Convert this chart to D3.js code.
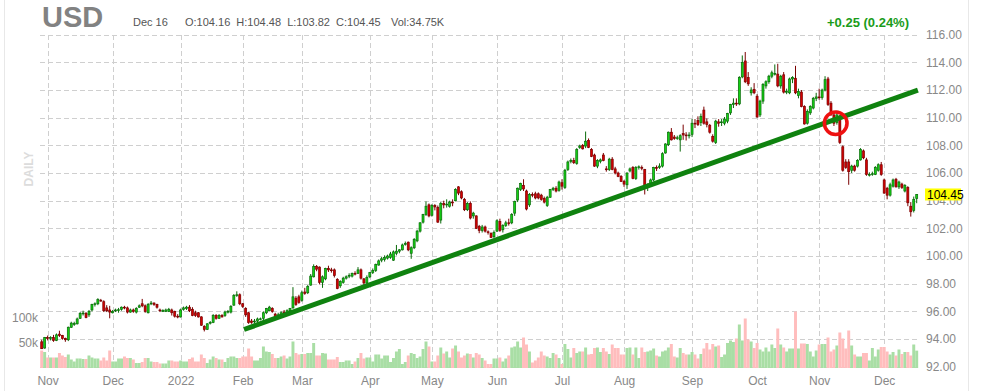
<!DOCTYPE html>
<html><head><meta charset="utf-8">
<script src="https://cdn.jsdelivr.net/npm/d3@7"></script>
<style>body{margin:0;background:#fff;} svg{display:block;font-family:Arial,"Liberation Sans",sans-serif;}</style>
</head><body><svg id="c" width="981" height="391"></svg>
<script>
// [open, high, low, close, volume(k)] per trading day
const oct21 = [[93.80,93.95,93.28,93.30,35],[93.35,94.15,93.30,94.10,32]];
const nov21 = [[94.10,94.25,93.90,94.05,21],[94.05,94.20,93.90,94.10,21],[94.10,94.30,93.80,93.90,21],[93.90,94.40,93.85,94.30,21],[94.35,94.60,94.15,94.25,30],[94.25,94.30,93.95,94.05,25],[94.05,94.10,93.80,93.95,22],[93.95,94.90,93.85,94.85,27],[94.85,95.25,94.80,95.15,17],[95.05,95.25,94.95,95.12,13],[95.10,95.55,95.05,95.45,19],[95.50,95.95,95.45,95.85,19],[95.85,96.05,95.70,95.88,18],[95.85,95.95,95.50,95.55,18],[95.75,96.10,95.60,96.00,25],[96.10,96.55,96.00,96.50,21],[96.50,96.65,96.35,96.55,19],[96.55,96.95,96.45,96.85,19],[96.80,96.90,96.70,96.78,15],[96.70,96.80,95.95,96.05,21],[96.25,96.45,95.95,96.05,15],[96.10,96.40,95.50,95.95,35]];
const dec21 = [[95.90,96.10,95.85,96.00,13],[96.05,96.20,95.95,96.10,13],[96.10,96.25,95.90,96.12,19],[96.15,96.35,96.05,96.30,19],[96.30,96.40,96.15,96.25,23],[96.25,96.35,95.85,95.95,20],[95.95,96.20,95.90,96.10,20],[96.10,96.20,95.90,96.00,17],[95.95,96.30,95.85,96.20,10],[96.30,96.50,96.25,96.40,10],[96.55,96.90,96.30,96.40,12],[96.40,96.50,95.90,96.00,20],[95.90,96.60,95.85,96.50,20],[96.55,96.75,96.45,96.60,13],[96.60,96.65,96.40,96.50,12],[96.50,96.55,96.20,96.30,12],[96.10,96.20,95.95,96.05,9],[96.05,96.15,95.95,96.06,9],[96.00,96.20,95.95,96.10,9],[96.00,96.25,95.95,96.15,15],[96.10,96.20,95.70,95.90,15],[96.00,96.05,95.55,95.65,13],[95.65,95.80,95.50,95.60,13]];
const jan22 = [[95.60,96.20,95.55,96.10,15],[96.15,96.35,96.05,96.25,13],[96.20,96.40,96.10,96.30,13],[96.30,96.45,95.95,96.05,18],[96.15,96.30,95.65,95.70,21],[95.90,96.05,95.60,95.70,13],[95.90,95.95,95.55,95.60,13],[95.60,95.65,94.95,95.00,27],[94.90,95.00,94.55,94.70,20],[94.70,95.15,94.65,95.10,10],[95.15,95.30,95.05,95.20,17],[95.20,95.80,95.15,95.70,23],[95.70,95.80,95.40,95.50,20],[95.50,95.80,95.45,95.70,17],[95.70,95.80,95.55,95.60,17],[95.70,96.05,95.60,95.95,12],[95.95,96.10,95.85,96.00,20],[95.95,96.45,95.85,96.35,23],[96.45,97.25,96.40,97.15,23],[97.15,97.45,97.05,97.20,20],[97.20,97.30,96.45,96.55,20]];
const feb22 = [[96.55,96.60,96.25,96.35,23],[96.20,96.30,95.60,95.75,23],[95.90,95.95,95.10,95.20,39],[95.30,95.45,95.10,95.20,23],[95.25,95.45,95.15,95.30,15],[95.30,95.55,95.20,95.45,15],[95.45,95.55,95.35,95.46,20],[95.50,96.00,95.25,95.90,43],[95.90,96.25,95.80,96.20,33],[96.05,96.40,96.00,96.30,32],[96.20,96.30,95.90,96.00,28],[95.80,95.90,95.55,95.60,20],[95.60,95.90,95.55,95.75,20],[95.75,96.00,95.65,95.90,23],[95.95,96.10,95.80,95.85,25],[95.85,96.15,95.80,96.05,19],[96.05,96.25,95.95,96.20,23],[96.25,97.75,96.20,97.05,53],[96.95,97.10,96.40,96.50,30],[97.05,97.20,96.55,96.65,27]];
const mar22 = [[96.80,97.50,96.70,97.35,28],[97.40,97.70,97.20,97.30,28],[97.35,97.90,97.25,97.80,30],[97.90,98.70,97.85,98.55,30],[98.50,99.40,98.45,99.25,50],[99.25,99.35,98.90,99.05,25],[99.20,99.25,97.95,98.10,25],[98.10,98.60,97.70,98.50,30],[98.35,99.15,98.25,99.10,29],[99.10,99.30,98.85,99.00,17],[99.00,99.15,98.80,98.98,17],[99.00,99.10,98.45,98.60,17],[98.30,98.40,97.60,97.65,22],[97.85,98.25,97.70,98.15,12],[98.10,98.50,98.00,98.40,12],[98.40,98.60,98.30,98.50,15],[98.55,98.75,98.40,98.60,15],[98.55,98.80,98.45,98.75,8],[98.75,98.90,98.60,98.70,13],[98.75,99.20,98.70,99.00,20],[99.00,99.10,98.30,98.40,30],[98.35,98.40,97.70,98.05,19],[98.05,98.60,97.85,98.45,21]];
const apr22 = [[98.50,98.85,98.40,98.80,21],[98.80,99.10,98.70,98.95,13],[98.95,99.45,98.85,99.40,27],[99.35,99.75,99.30,99.65,27],[99.70,99.95,99.55,99.80,19],[99.75,100.05,99.60,99.90,25],[99.85,100.10,99.75,100.00,25],[99.90,100.30,99.80,100.15,12],[99.70,100.40,99.65,100.30,20],[100.20,100.80,100.05,100.35,33],[100.35,100.50,100.20,100.45,38],[100.45,100.90,100.40,100.80,8],[100.85,101.05,100.75,100.90,12],[101.00,101.05,100.35,100.45,25],[100.20,100.70,99.80,100.60,30],[100.60,101.30,100.50,101.20,28],[101.10,101.90,101.00,101.80,20],[101.80,102.45,101.70,102.40,23],[102.45,103.05,102.35,103.00,38],[103.00,103.95,102.90,103.60,53],[103.70,103.80,102.80,102.90,43]];
const may22 = [[102.95,103.75,102.85,103.65,13],[103.65,103.75,103.30,103.55,13],[103.50,103.65,102.40,102.45,25],[102.60,103.90,102.35,103.80,41],[103.80,104.00,103.45,103.70,29],[103.70,104.10,103.50,103.75,33],[103.60,104.00,103.50,103.90,21],[103.90,104.10,103.60,103.85,39],[104.00,104.90,103.95,104.80,45],[105.00,105.05,104.40,104.55,33],[104.65,104.75,104.10,104.20,21],[104.10,104.20,103.25,103.35,25],[103.35,103.90,103.25,103.80,29],[103.80,103.95,102.65,102.75,28],[102.90,103.20,102.70,103.10,21],[102.90,102.95,101.95,102.00,30],[102.15,102.25,101.65,101.85,27],[101.85,102.25,101.70,102.10,20],[102.10,102.20,101.70,101.80,15],[101.75,101.85,101.55,101.70,8],[101.65,101.70,101.30,101.35,8],[101.40,101.85,101.30,101.70,19]];
const jun22 = [[101.80,102.65,101.75,102.55,19],[102.50,102.70,101.75,101.85,21],[101.90,102.30,101.70,102.20,13],[102.20,102.55,102.10,102.40,19],[102.40,102.70,102.20,102.35,25],[102.40,103.10,102.30,103.00,41],[103.10,104.00,102.90,103.95,43],[104.05,104.95,103.90,104.90,53],[104.80,105.30,104.70,105.25,41],[105.10,105.55,104.70,104.85,61],[104.70,104.80,103.30,103.40,47],[103.70,104.55,103.55,104.45,33],[104.45,104.60,104.25,104.40,11],[104.50,104.65,104.10,104.20,15],[104.50,104.60,104.10,104.20,21],[104.40,104.50,104.00,104.10,33],[104.15,104.30,103.80,103.90,25],[103.65,104.35,103.55,104.25,23],[104.25,104.85,104.20,104.80,20],[104.80,105.00,104.70,104.90,30],[104.90,105.05,104.60,104.70,27],[104.75,105.45,104.65,105.35,20]];
const jul22 = [[105.30,105.55,104.80,105.05,8],[104.95,106.30,104.85,106.20,48],[106.25,106.90,106.15,106.80,38],[106.85,107.05,106.70,106.90,21],[106.90,107.10,106.65,106.75,40],[106.70,107.80,106.60,107.70,30],[107.85,108.05,107.75,107.95,33],[108.00,108.10,107.70,107.75,33],[107.95,109.00,107.80,108.30,41],[108.35,108.50,107.80,107.85,27],[107.70,107.80,107.15,107.20,28],[107.30,107.40,106.45,106.50,40],[106.50,107.00,106.35,106.90,41],[106.85,107.05,106.70,106.95,32],[107.30,107.45,106.85,106.90,40],[106.30,106.50,106.10,106.25,33],[106.25,107.10,106.15,107.00,28],[107.00,107.15,106.20,106.25,47],[106.30,106.45,105.90,106.00,40],[106.00,106.10,105.70,105.75,40],[105.75,105.85,105.35,105.40,27]];
const aug22 = [[105.40,105.50,105.00,105.20,27],[105.15,106.05,104.85,106.00,40],[106.15,106.40,106.05,106.30,41],[106.40,106.50,105.55,105.60,27],[105.60,106.50,105.50,106.40,41],[106.40,106.55,106.25,106.45,20],[106.40,106.55,106.20,106.35,41],[106.25,106.30,104.45,105.05,32],[105.05,105.25,104.70,105.10,33],[105.10,105.60,105.00,105.50,35],[105.50,106.45,105.40,106.40,39],[106.40,106.55,106.15,106.35,25],[106.40,106.70,106.30,106.50,23],[106.50,107.50,106.40,107.40,33],[107.45,108.15,107.40,108.10,35],[108.05,109.00,107.95,108.95,41],[108.95,109.25,108.35,108.40,48],[108.60,108.75,108.40,108.50,23],[108.50,108.70,108.40,108.55,21],[108.40,108.80,107.55,108.70,40],[108.85,109.50,108.40,108.75,30],[108.75,108.95,108.35,108.70,27],[108.70,108.95,108.50,108.75,27]];
const sep22 = [[108.80,109.90,108.60,109.60,32],[109.60,109.90,109.25,109.55,27],[109.80,110.10,109.40,109.50,19],[109.65,110.30,109.40,110.10,28],[110.55,110.80,109.50,109.60,39],[109.70,109.95,109.30,109.50,50],[109.45,109.55,108.85,108.95,37],[108.65,108.80,108.20,108.30,48],[108.20,109.85,108.10,109.75,43],[109.70,109.90,109.35,109.60,45],[109.65,109.90,109.40,109.70,22],[109.60,110.05,109.45,109.90,27],[109.75,110.35,109.60,110.30,50],[110.35,111.00,110.20,110.95,55],[110.95,111.40,110.70,111.05,52],[111.05,111.40,110.85,111.00,59],[111.00,113.00,110.90,112.90,87],[112.95,114.50,112.85,114.00,55],[114.10,114.75,112.50,112.60,99],[112.90,113.30,112.30,112.45,57],[111.80,112.20,111.60,112.00,53],[112.05,112.50,111.70,111.80,40]];
const oct22 = [[111.55,111.70,110.00,110.05,50],[110.20,111.30,110.05,111.20,37],[111.20,112.50,111.00,112.40,33],[112.30,112.70,112.10,112.60,41],[112.60,113.10,112.45,113.00,33],[113.00,113.40,112.85,113.25,47],[113.20,113.85,113.05,113.20,40],[113.15,113.90,112.20,112.30,79],[112.30,113.10,112.10,113.00,47],[113.10,113.30,111.75,111.85,41],[111.90,112.10,111.70,111.90,33],[111.80,112.90,111.70,112.80,39],[112.80,113.00,112.50,112.90,39],[112.85,113.75,111.70,111.80,113],[111.60,112.10,111.40,111.90,39],[111.85,112.00,110.75,110.80,49],[110.80,110.90,109.50,109.55,49],[109.60,110.60,109.50,110.45,48],[110.35,110.90,110.20,110.80,33],[110.70,111.50,110.60,111.40,23],[111.40,111.80,111.20,111.50,35]];
const nov22 = [[111.50,112.10,111.30,111.45,47],[111.45,112.10,111.30,112.00,48],[112.00,113.00,111.90,112.75,48],[112.80,112.95,110.85,110.95,61],[111.05,111.20,110.15,110.20,33],[110.20,110.30,109.40,109.60,37],[109.65,110.50,109.50,110.20,45],[110.10,110.20,108.10,108.20,71],[107.90,108.00,106.10,106.20,59],[106.80,107.00,106.30,106.40,39],[106.80,107.00,105.15,106.10,75],[106.20,106.60,106.00,106.50,45],[106.50,106.60,106.10,106.20,27],[106.50,107.00,106.40,106.90,23],[106.95,107.80,106.90,107.70,23],[107.60,107.70,107.00,107.10,30],[106.95,107.10,105.80,105.90,30],[105.90,106.05,105.75,105.90,15],[105.90,106.10,105.80,105.95,40],[105.90,106.50,105.85,106.40,23],[106.20,106.70,106.10,106.60,37],[106.60,106.80,105.80,105.90,42]];
const dec22 = [[105.50,105.60,104.50,104.55,42],[104.90,105.00,104.10,104.40,33],[104.40,105.30,104.30,105.15,27],[105.05,105.60,104.95,105.50,32],[105.55,105.65,104.95,105.00,25],[105.00,105.45,104.85,105.35,37],[105.20,105.30,104.85,104.95,28],[104.70,105.20,104.60,105.10,32],[104.95,105.05,103.60,103.85,32],[103.60,103.90,102.85,103.20,25],[103.30,104.30,103.15,104.10,47],[104.16,104.48,103.82,104.45,34.75]];

const months = [oct21, nov21, dec21, jan22, feb22, mar22, apr22, may22, jun22, jul22, aug22, sep22, oct22, nov22, dec22];
const monthLabels = [null, "Nov", "Dec", "2022", "Feb", "Mar", "Apr", "May", "Jun", "Jul", "Aug", "Sep", "Oct", "Nov", "Dec"];
const priceTicks = [92, 94, 96, 98, 100, 102, 104, 106, 108, 110, 112, 114, 116];
const volTicks = [50, 100];
const trendLine = [[68.44, 94.69], [296.4, 112.0]];   // [day index, price]
const breakPoint = [268.6, 109.6];
const header = {sym: "USD", date: "Dec 16", ohlc: "O:104.16  H:104.48  L:103.82  C:104.45", vol: "Vol:34.75K", chg: "+0.25 (0.24%)", last: 104.45};

const data = [], monthStart = [];
months.forEach(m => { monthStart.push(data.length); m.forEach(r => data.push({o:r[0], h:r[1], l:r[2], c:r[3], v:r[4]})); });

const svg = d3.select("#c");
const x = d3.scaleLinear().domain([0, data.length - 1]).range([41.7, 916.7]);
const bw = x(1) - x(0);
const y = d3.scaleLinear().domain([92, 116]).range([366.7, 34.7]);
const yv = d3.scaleLinear().domain([0, 100]).range([368, 318]);

// frame
svg.append("line").attr("x1", 4.5).attr("x2", 4.5).attr("y1", 0).attr("y2", 391).attr("stroke", "#e8e8e8");
svg.append("line").attr("x1", 968.5).attr("x2", 968.5).attr("y1", 0).attr("y2", 391).attr("stroke", "#e8e8e8");

// grid
const g = svg.append("g");
g.selectAll(".hg").data(priceTicks).join("line")
  .attr("x1", 40).attr("x2", 919).attr("y1", d => Math.round(y(d)) + 0.5).attr("y2", d => Math.round(y(d)) + 0.5)
  .attr("stroke", "#cfcfcf").attr("stroke-dasharray", "5,3");
g.selectAll(".vg").data(monthStart.slice(1)).join("line")
  .attr("x1", d => Math.round(x(d)) + 0.5).attr("x2", d => Math.round(x(d)) + 0.5).attr("y1", 35).attr("y2", 369)
  .attr("stroke", "#cfcfcf").attr("stroke-dasharray", "5,3");

// DAILY
svg.append("text").attr("transform", "translate(32.5,169) rotate(-90)").attr("text-anchor", "middle")
  .attr("font-size", 12).attr("font-weight", "bold").attr("fill", "#dcdcdc").text("DAILY");

// volume
svg.append("g").selectAll("rect").data(data).join("rect")
  .attr("x", (d, i) => x(i) - bw / 2).attr("width", bw)
  .attr("y", d => yv(d.v)).attr("height", d => yv(0) - yv(d.v))
  .attr("fill", d => d.c >= d.o ? "#a9dea5" : "#ffbdbd");

// candles
const cg = svg.append("g");
cg.selectAll("line").data(data).join("line")
  .attr("x1", (d, i) => x(i)).attr("x2", (d, i) => x(i))
  .attr("y1", d => y(d.h)).attr("y2", d => y(d.l))
  .attr("stroke", d => d.c >= d.o ? "#0a6a0a" : "#7a0000").attr("stroke-width", 1);
cg.selectAll("rect").data(data).join("rect")
  .attr("x", (d, i) => x(i) - 1).attr("width", 2)
  .attr("y", d => y(Math.max(d.o, d.c)))
  .attr("height", d => Math.max(0.8, Math.abs(y(d.o) - y(d.c))))
  .attr("fill", d => d.c >= d.o ? "#14d214" : "#d40000")
  .attr("stroke", d => d.c >= d.o ? "#0a6a0a" : "#7a0000").attr("stroke-width", 0.7);

// trend line
svg.append("line")
  .attr("x1", x(trendLine[0][0])).attr("y1", y(trendLine[0][1]))
  .attr("x2", x(trendLine[1][0])).attr("y2", y(trendLine[1][1]))
  .attr("stroke", "#0f820f").attr("stroke-width", 5);
svg.append("circle").attr("cx", x(breakPoint[0])).attr("cy", y(breakPoint[1])).attr("r", 11.3)
  .attr("fill", "none").attr("stroke", "#ee1111").attr("stroke-width", 3.6);

// axes
const ya = svg.append("g").attr("transform", "translate(926,0)")
  .call(d3.axisRight(y).tickValues(priceTicks).tickFormat(d3.format(".2f")).tickSize(0).tickPadding(0));
ya.select(".domain").remove();
ya.selectAll("text").attr("fill", "#888").attr("font-size", 12).attr("font-family", "Arial, 'Liberation Sans', sans-serif");

const xa = svg.append("g").attr("transform", "translate(0,372)")
  .call(d3.axisBottom(x).tickValues(monthStart.slice(1)).tickFormat((d, i) => monthLabels[i + 1]).tickSize(0).tickPadding(4));
xa.select(".domain").remove();
xa.selectAll("text").attr("fill", "#888").attr("font-size", 12).attr("font-family", "Arial, 'Liberation Sans', sans-serif");

const va = svg.append("g").attr("transform", "translate(38,0)")
  .call(d3.axisLeft(yv).tickValues(volTicks).tickFormat(d => d + "k").tickSize(0).tickPadding(0));
va.select(".domain").remove();
va.selectAll("text").attr("fill", "#888").attr("font-size", 12).attr("font-family", "Arial, 'Liberation Sans', sans-serif");

// last price tag
svg.append("rect").attr("x", 925).attr("y", y(header.last) - 6).attr("width", 36).attr("height", 12).attr("fill", "#ffff00");
svg.append("text").attr("x", 927).attr("y", y(header.last) + 4.3).attr("font-size", 12).attr("fill", "#000").text(header.last.toFixed(2));

// header
svg.append("text").attr("x", 42).attr("y", 27).attr("font-size", 29).attr("font-weight", "bold").attr("fill", "#828282").text(header.sym);
svg.append("text").attr("x", 133).attr("y", 26).attr("font-size", 11).attr("fill", "#555").text(header.date);
svg.append("text").attr("x", 185).attr("y", 26).attr("font-size", 11).attr("fill", "#555").attr("xml:space", "preserve").style("white-space", "pre").text(header.ohlc);
svg.append("text").attr("x", 391).attr("y", 26).attr("font-size", 11).attr("fill", "#555").text(header.vol);
svg.append("text").attr("x", 909).attr("y", 27).attr("text-anchor", "end").attr("font-size", 13).attr("font-weight", "bold").attr("fill", "#1a9c1a").text(header.chg);
</script></body></html>
